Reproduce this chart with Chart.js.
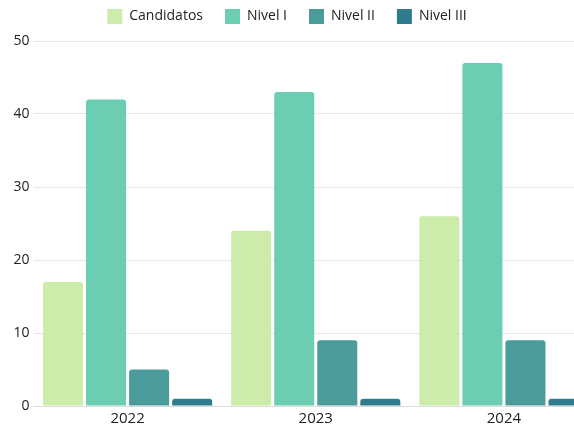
<!DOCTYPE html>
<html>
<head>
<meta charset="utf-8">
<script src="https://cdn.jsdelivr.net/npm/chart.js@4"></script>
<style>
html,body{margin:0;padding:0;background:#fff;overflow:hidden;}
#wrap{position:relative;width:574px;height:428px;overflow:hidden;}
#c{position:absolute;left:0;top:0;}
</style>
</head>
<body>
<div id="wrap"><canvas id="c" width="598" height="428"></canvas></div>
<script>
const categories = ['2022', '2023', '2024'];
const seriesNames = ['Candidatos', 'Nivel I', 'Nivel II', 'Nivel III'];
const candidatos = [17, 24, 26];
const nivel1 = [42, 43, 47];
const nivel2 = [5, 9, 9];
const nivel3 = [1, 1, 1];
const yTicks = [0, 10, 20, 30, 40, 50];
const colors = ['#cdeba9', '#6bcdb1', '#4b9b9b', '#2e7c8e'];

const values = [candidatos, nivel1, nivel2, nivel3];
const FONT = "'Open Sans', 'DejaVu Sans', sans-serif";

new Chart(document.getElementById('c'), {
  type: 'bar',
  data: {
    labels: categories,
    datasets: seriesNames.map((n, i) => ({
      label: n,
      data: values[i],
      backgroundColor: colors[i],
      borderWidth: 0,
      borderRadius: {topLeft: 3, topRight: 3, bottomLeft: 0, bottomRight: 0},
      borderSkipped: false,
      barPercentage: 0.93,
      categoryPercentage: 0.915
    }))
  },
  options: {
    responsive: false,
    animation: false,
    devicePixelRatio: 1,
    layout: {padding: {left: -24, right: 0, top: -13, bottom: -4}},
    plugins: {
      legend: {
        position: 'top',
        labels: {
          boxWidth: 15, boxHeight: 15, padding: 22,
          color: '#222', font: {family: FONT, size: 14}
        }
      },
      subtitle: {
        display: true, text: '', position: 'top', weight: 500,
        padding: 0, font: {size: 7, lineHeight: 1}
      },
      tooltip: {enabled: false}
    },
    scales: {
      x: {
        grid: {display: false, drawTicks: false},
        border: {display: true, color: '#dcdcdc', width: 1},
        ticks: {color: '#222', padding: 4, font: {family: FONT, size: 15}}
      },
      y: {
        min: 0, max: 50,
        afterBuildTicks: (s) => { s.ticks = yTicks.map(v => ({value: v})); },
        afterFit: (s) => { s.width = 57.5; },
        grid: {color: '#e6e6e6', drawTicks: false},
        border: {display: false},
        ticks: {color: '#222', padding: 4, font: {family: FONT, size: 14}}
      }
    }
  }
});
</script>
</body>
</html>
